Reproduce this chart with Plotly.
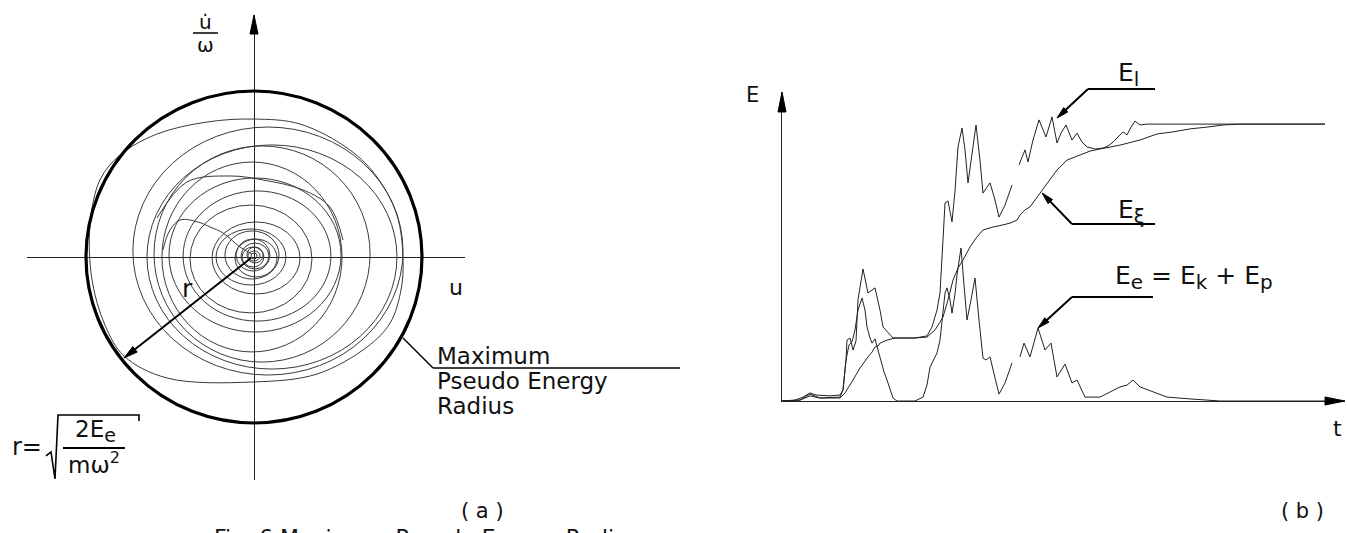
import math
import plotly.graph_objects as go

W, H = 1347, 533
FONT = "DejaVu Sans"
INK = "#111111"

# ---------------- panel (a): phase plane u vs u_dot/omega (units: max pseudo-energy radius)
r_max = 1.0
# trajectory loops: centre (u, v) and half-widths
loop_u  = [0.000, 0.000, 0.006, -0.006, 0.006, -0.006, 0.012, -0.012, -0.018, 0.012, -0.018, 0.018, 0.006, -0.012, 0.048, 0.107, 0.083]
loop_v  = [0.006, 0.006, 0.012, 0.000, 0.006, 0.012, -0.006, 0.012, 0.000, -0.006, -0.012, 0.006, 0.012, 0.000, 0.018, 0.000, 0.036]
loop_ru = [0.018, 0.036, 0.048, 0.065, 0.083, 0.101, 0.125, 0.161, 0.208, 0.262, 0.363, 0.440, 0.512, 0.536, 0.643, 0.744, 0.804]
loop_rv = [0.018, 0.030, 0.048, 0.060, 0.078, 0.096, 0.114, 0.145, 0.169, 0.217, 0.325, 0.392, 0.464, 0.572, 0.651, 0.675, 0.747]

# outermost loop (touches the maximum radius)
outer_u = [0.887, 0.851, 0.732, 0.571, 0.274, -0.006, -0.280, -0.577, -0.798, -0.917, -0.976, -0.964, -0.887, -0.774, -0.518, -0.006, 0.375, 0.673, 0.810, 0.875, 0.887]
outer_v = [-0.006, 0.253, 0.482, 0.645, 0.801, 0.831, 0.813, 0.741, 0.614, 0.464, 0.193, -0.139, -0.410, -0.596, -0.729, -0.753, -0.705, -0.542, -0.398, -0.199, -0.006]

# irregular connecting segments of the trajectory
wave1_u = [-0.012, -0.083, -0.185, -0.262, -0.333, -0.440, -0.500, -0.542]
wave1_v = [0.018, 0.060, 0.145, 0.181, 0.211, 0.223, 0.163, 0.042]
wave2_u = [-0.577, -0.399, -0.143, 0.054, 0.292, 0.452, 0.530]
wave2_v = [0.235, 0.452, 0.488, 0.464, 0.404, 0.301, 0.102]

# ---------------- panel (b): energies vs time
t_l = [0, 2.6, 4.2, 5.6, 6.8, 9.6, 11.6, 12.2, 12.8, 13.0, 13.6, 14.2, 14.8, 15.2, 16.2, 17.2, 18.6, 19.6, 20.2, 21.2, 22.2,
       23.6, 26.6, 29.0, 30.0, 31.0, 31.6, 32.2, 32.6, 33.2, 34.0, 34.6, 35.2, 36.0, 36.6, 37.2, 37.8, 38.8, 39.6, 40.2,
       41.0, 41.6, 42.6, 43.4, 44.6, 46.0, None, 47.4, 48.6, 49.2, 50.2, 51.4, 52.8, 54.0, 55.0, 55.8, 56.8, 58.0, 59.0,
       60.0, 61.0, 62.6, 64.2, 65.2, 66.2, 67.2, 68.2, 69.0, 69.8, 70.6, 71.6, 73.0, 108.6]
E_l = [0, 0.3, 1.3, 2.7, 2.0, 1.7, 2.0, 3.7, 13.7, 20.3, 21.0, 17.0, 20.0, 33.7, 44.0, 36.0, 37.7, 30.3, 24.7, 22.7, 21.0,
       21.0, 21.0, 21.7, 24.7, 30.3, 36.0, 53.7, 66.0, 66.7, 59.7, 70.0, 84.7, 91.0, 83.7, 72.7, 80.3, 92.0, 80.3, 69.3,
       71.3, 72.7, 67.0, 61.3, 65.3, 72.0, None, 78.7, 83.7, 79.7, 87.0, 93.7, 88.0, 94.7, 86.0, 89.3, 92.0, 87.0, 89.3,
       86.3, 84.7, 84.0, 84.3, 85.0, 86.3, 88.0, 89.7, 88.7, 91.3, 93.3, 92.0, 92.3, 92.3]

t_xi = [0, 3.6, 5.6, 7.6, 11.6, 12.6, 14.2, 15.6, 17.2, 18.0, 18.6, 19.2, 19.6, 21.0, 22.6, 26.6, 29.0, 30.6, 31.6, 32.2,
        33.2, 34.2, 35.2, 36.2, 37.6, 38.8, 40.2, 42.2, 44.2, 45.6, 47.0, 47.6, 48.6, 49.6, 50.6, 51.6, 53.0, 55.0, 57.0,
        59.6, 61.6, 63.6, 67.6, 71.6, 75.0, 78.2, 81.6, 85.0, 88.2, 91.6, 108.6]
E_xi = [0, 0.3, 1.7, 1.0, 1.0, 2.7, 7.0, 11.0, 14.7, 16.3, 18.0, 18.3, 19.3, 20.3, 21.0, 21.0, 21.3, 23.7, 26.3, 28.0,
        33.7, 40.3, 44.3, 47.0, 51.3, 54.3, 57.0, 58.0, 58.7, 59.3, 60.3, 62.0, 63.7, 64.7, 67.0, 69.3, 72.7, 77.0, 80.3,
        82.0, 83.3, 84.0, 85.3, 87.0, 89.0, 89.7, 90.7, 91.3, 92.0, 92.3, 92.3]

t_e = [0, 3.6, 5.6, 7.6, 11.6, 12.2, 12.8, 13.4, 14.0, 14.6, 15.2, 16.0, 16.6, 17.0, 17.6, 18.0, 18.6, 19.2, 19.6, 20.4,
       21.0, 21.6, 22.2, 23.0, 26.6, 28.2, 29.0, 29.6, 31.0, 31.6, 32.0, 32.6, 33.0, 33.6, 34.0, 34.6, 35.0, 35.8, 36.4,
       37.0, 37.8, 38.6, 39.4, 40.2, 40.8, 41.6, 42.6, 43.4, 44.6, 46.0, None, 47.6, 48.4, 49.6, 51.2, 52.6, 53.8, 55.0,
       56.6, 58.0, 59.0, 60.6, 63.6, 65.6, 67.6, 69.0, 70.2, 71.6, 74.2, 77.0, 81.6, 87.6, 108.6]
E_e = [0, 0.3, 2.3, 1.0, 1.3, 3.7, 13.7, 18.7, 19.7, 23.7, 30.3, 34.3, 30.3, 24.7, 21.0, 19.3, 20.7, 17.0, 13.7, 9.7,
       7.0, 3.7, 1.0, 0, 0, 1.3, 5.3, 11.3, 16.0, 20.3, 27.0, 36.0, 37.7, 33.7, 29.3, 35.7, 42.0, 51.0, 38.7,
       27.0, 33.7, 41.0, 27.0, 14.3, 13.7, 14.7, 7.7, 2.3, 6.0, 12.7, None, 14.7, 19.3, 14.7, 24.3, 17.0, 19.3, 8.0,
       12.3, 6.0, 7.0, 1.3, 1.3, 3.0, 4.7, 5.3, 7.0, 4.7, 3.0, 1.3, 0.7, 0, 0]

fig = go.Figure()
TRJ = dict(color="#3a3a3a", width=1)
fig.add_trace(go.Scatter(x=outer_u, y=outer_v, mode="lines", line=dict(shape="spline", **TRJ), xaxis="x", yaxis="y"))
fig.add_trace(go.Scatter(x=wave1_u, y=wave1_v, mode="lines", line=dict(shape="spline", **TRJ), xaxis="x", yaxis="y"))
fig.add_trace(go.Scatter(x=wave2_u, y=wave2_v, mode="lines", line=dict(shape="spline", **TRJ), xaxis="x", yaxis="y"))

LB = dict(color="#222222", width=1)
fig.add_trace(go.Scatter(x=t_l, y=E_l, mode="lines", line=LB, xaxis="x2", yaxis="y2"))
fig.add_trace(go.Scatter(x=t_xi, y=E_xi, mode="lines", line=LB, xaxis="x2", yaxis="y2"))
fig.add_trace(go.Scatter(x=t_e, y=E_e, mode="lines", line=LB, xaxis="x2", yaxis="y2"))

shapes = []
for cu, cv, ru, rv in zip(loop_u, loop_v, loop_ru, loop_rv):
    shapes.append(dict(type="circle", xref="x", yref="y", x0=cu - ru, x1=cu + ru, y0=cv - rv, y1=cv + rv,
                       line=dict(color="#3a3a3a", width=1)))
shapes.append(dict(type="circle", xref="x", yref="y", x0=-r_max, x1=r_max, y0=-r_max, y1=r_max,
                   line=dict(color="#000000", width=3.2)))


def P(x, y):
    return f"{x / W:.5f},{1 - y / H:.5f}"


def tri(pts):
    return dict(type="path", xref="paper", yref="paper", path="M" + " L".join(P(*p) for p in pts) + " Z",
                fillcolor="#000000", line=dict(color="#000000", width=1))


def seg(x0, y0, x1, y1, w=1.8):
    return dict(type="line", xref="paper", yref="paper", x0=x0 / W, y0=1 - y0 / H, x1=x1 / W, y1=1 - y1 / H,
                line=dict(color="#000000", width=w))


def arrow(tip, tail, w=2, L=12, hw=6):
    dx, dy = tip[0] - tail[0], tip[1] - tail[1]
    n = math.hypot(dx, dy)
    ux, uy = dx / n, dy / n
    bx, by = tip[0] - ux * L, tip[1] - uy * L
    nx, ny = -uy * hw / 2, ux * hw / 2
    return [seg(tail[0], tail[1], bx, by, w), tri([(bx + nx, by + ny), tip, (bx - nx, by - ny)])]


# axis arrow heads
shapes += [tri([(250, 34), (254, 15), (258, 34)]),
           tri([(778, 112), (782, 92), (786, 112)]),
           tri([(1325, 397), (1345, 401), (1325, 405)])]
# radius arrow r
shapes += arrow((124, 358), (251, 258), 2, 14, 7)
# maximum radius leader
shapes += [seg(403, 338, 433, 368, 1.5), seg(433, 368, 680, 368, 1.5)]
# u_dot / omega fraction bar
shapes += [seg(193, 33, 218, 33, 1.5)]
# formula r = sqrt(2Ee / m w^2)
shapes += [dict(type="path", xref="paper", yref="paper",
                path="M" + P(46, 456) + " L" + P(51, 452) + " L" + P(55, 479) + " L" + P(58, 415) + " L" + P(139, 415) + " L" + P(139, 421),
                line=dict(color="#000000", width=1.6)),
           seg(63, 448, 125, 448, 2)]
# leaders of panel (b)
shapes += arrow((1057, 118), (1088, 89)) + [seg(1088, 89, 1155, 89, 2)]
shapes += arrow((1042, 193), (1072, 224)) + [seg(1072, 224, 1155, 224, 2)]
shapes += arrow((1038, 328), (1072, 297)) + [seg(1072, 297, 1153, 297, 2)]

ann = []


def label(text, x, y, size=22, xanchor="center", yanchor="middle"):
    ann.append(dict(text=text, x=x / W, y=1 - y / H, xref="paper", yref="paper", showarrow=False,
                    xanchor=xanchor, yanchor=yanchor, font=dict(size=size, color=INK, family=FONT)))


def sub(s, size):
    return f"<sub><span style='font-size:{size}px'>{s}</span></sub>"


# panel (a) texts
label("u\u0307", 205, 22, 20)
label("\u03c9", 205, 45, 20)
label("u", 456, 287, 22)
label("r", 187, 288, 25)
label("Maximum", 435, 356, 23, "left")
label("Pseudo Energy", 435, 381, 23, "left")
label("Radius", 435, 406, 23, "left")
label("r=", 27, 447, 24)
label("2E" + sub("e", 19), 95, 431, 23)
label("m\u03c9<sup>2</sup>", 94, 463, 23)
label("( a )", 482, 511, 21)
label("Fig. 6 Maximum Pseudo Energy Radius", 212, 523, 22, "left", "top")

# panel (b) texts
label("E", 753, 95, 21)
label("t", 1337, 428, 22)
label("E" + sub("l", 20), 1116, 74, 25, "left")
label("E" + sub("\u03be", 20), 1116, 211, 25, "left")
label("E" + sub("e", 20) + " = E" + sub("k", 20) + " + E" + sub("p", 20), 1113, 277, 25, "left")
label("( b )", 1302, 511, 21)

hidden = dict(showgrid=False, showticklabels=False, ticks="", showline=False, fixedrange=True)
fig.update_layout(
    width=W, height=H, margin=dict(l=0, r=0, t=0, b=0),
    paper_bgcolor="white", plot_bgcolor="white", showlegend=False,
    xaxis=dict(domain=[27 / W, 465 / W], range=[-1.3512, 1.2560], zeroline=True, zerolinecolor="#222222",
               zerolinewidth=1, anchor="y", **hidden),
    yaxis=dict(domain=[1 - 480 / H, 1 - 15 / H], range=[-1.3434, 1.4578], zeroline=True,
               zerolinecolor="#222222", zerolinewidth=1, anchor="x", **hidden),
    xaxis2=dict(domain=[782 / W, 1345 / W], range=[0, 112.6], anchor="y2", zeroline=False, showgrid=False,
                showticklabels=False, ticks="", showline=True, linecolor="#222222", linewidth=1),
    yaxis2=dict(domain=[1 - 401 / H, 1 - 92 / H], range=[0, 103], anchor="x2", zeroline=False, showgrid=False,
                showticklabels=False, ticks="", showline=True, linecolor="#222222", linewidth=1),
    shapes=shapes, annotations=ann,
)
fig.write_html("out.html")
